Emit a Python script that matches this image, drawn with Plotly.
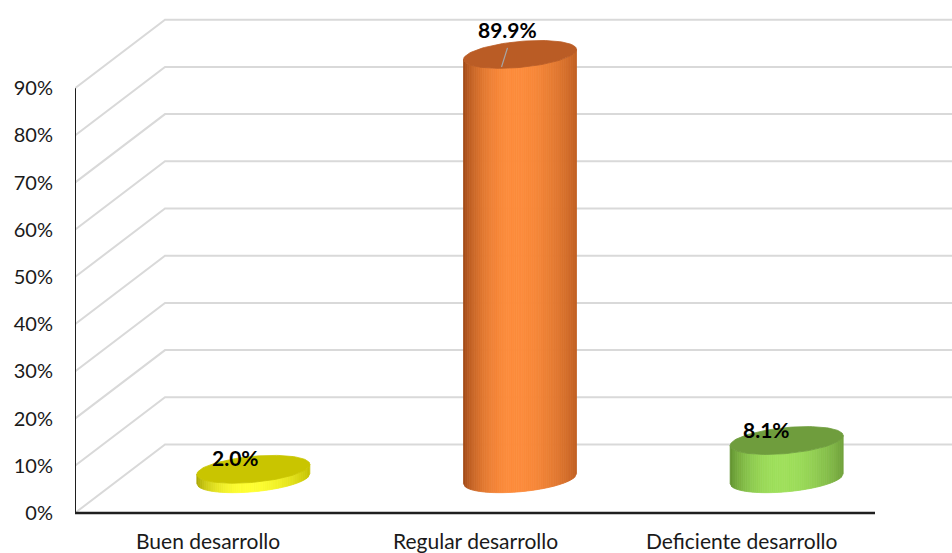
import numpy as np
import plotly.graph_objects as go

# ---- data ----
categories = ["Buen desarrollo", "Regular desarrollo", "Deficiente desarrollo"]
percentages = [2.0, 89.9, 8.1]
tick_values = [0, 10, 20, 30, 40, 50, 60, 70, 80, 90]
tick_labels = [f"{v}%" for v in tick_values]

# ---- styling ----
# (left edge, highlight, right edge, top face) per cylinder
bar_colors = [
    ("#a3a000", "#ffff33", "#c2bf00", "#c9c500"),
    ("#9a4515", "#fd8c3c", "#bf5f22", "#ba5c25"),
    ("#5b8a2c", "#9fe05c", "#6f9f3b", "#6f9d3d"),
]
label_shift = [(-18, 12), (-12.5, 25), (-20, 11.5)]   # px offsets of value labels
leader_line = [False, True, False]

FONT = "Lato"
GRID = "#d9d9d9"
AXIS = "#1f1f1f"

W, H = 952, 553
M_LEFT = 75
PX_PER_CAT = 800 / 3          # horizontal px per category on the front plane
PX_PER_PCT = 4.72             # vertical px per percentage point
FLOOR_PX = 513                # px row of the front 0% line

# oblique depth of the 3D box and cylinder geometry (in data units)
DEPTH_X = 90 / PX_PER_CAT
DEPTH_Y = 68.5 / PX_PER_PCT
R_X = 56.5 / PX_PER_CAT
R_Y = 13 / PX_PER_PCT
TILT = 5 / PX_PER_PCT

x_range = [-0.5, -0.5 + (W - M_LEFT) / PX_PER_CAT]
y_range = [-(H - FLOOR_PX) / PX_PER_PCT, FLOOR_PX / PX_PER_PCT]


def hex_rgb(h):
    h = h.lstrip("#")
    return np.array([int(h[i:i + 2], 16) for i in (0, 2, 4)], dtype=float)


def mix(a, b, w):
    c = a + (b - a) * w
    return "rgb({:.0f},{:.0f},{:.0f})".format(*np.clip(c, 0, 255))


fig = go.Figure()


def add_line(xs, ys, color, width):
    fig.add_trace(go.Scatter(x=xs, y=ys, mode="lines",
                             line=dict(color=color, width=width),
                             hoverinfo="skip", showlegend=False))


# gridlines: side wall diagonals plus back wall horizontals
x0 = x_range[0]
for v in tick_values:
    add_line([x0, x0 + DEPTH_X, x_range[1] + 0.1],
             [v, v + DEPTH_Y, v + DEPTH_Y], GRID, 2)

# cylinders
N = 60
for i, (val, cols) in enumerate(zip(percentages, bar_colors)):
    left, hi, right, top_col = [hex_rgb(c) for c in cols]
    cx = i + DEPTH_X / 2
    base = DEPTH_Y / 2
    top = base + val

    u = np.linspace(0, 1, N + 1)
    cos_t = 2 * u - 1
    sin_t = -np.sqrt(np.clip(1 - cos_t ** 2, 0, 1))
    xs = cx + R_X * cos_t
    yb = base + R_Y * sin_t + TILT * cos_t
    yt = top + R_Y * sin_t + TILT * cos_t

    for k in range(N):
        um = (u[k] + u[k + 1]) / 2
        uw = um ** 0.87
        w = np.sin(np.pi * uw) ** 0.75
        edge = left if uw < 0.5 else right
        col = mix(edge, hi, w)
        fig.add_trace(go.Scatter(
            x=[xs[k], xs[k + 1], xs[k + 1], xs[k], xs[k]],
            y=[yb[k], yb[k + 1], yt[k + 1], yt[k], yb[k]],
            mode="lines", fill="toself", fillcolor=col,
            line=dict(color=col, width=0.8),
            hoverinfo="skip", showlegend=False))

    t = np.linspace(0, 2 * np.pi, 121)
    top_rgb = mix(top_col, top_col, 0)
    fig.add_trace(go.Scatter(
        x=cx + R_X * np.cos(t),
        y=top + R_Y * np.sin(t) + TILT * np.cos(t),
        mode="lines", fill="toself", fillcolor=top_rgb,
        line=dict(color=top_rgb, width=0.8),
        hoverinfo="skip", showlegend=False))

    dx_px, dy_px = label_shift[i]
    if leader_line[i]:
        add_line([cx + dx_px / PX_PER_CAT, cx + (dx_px - 6) / PX_PER_CAT],
                 [top + (dy_px - 18.5) / PX_PER_PCT, top - 12.6 / PX_PER_PCT],
                 "#a6a6a6", 1.2)
    fig.add_annotation(x=cx, y=top, xref="x", yref="y",
                       text=f"{val:.1f}%", showarrow=False,
                       xshift=dx_px, yshift=dy_px,
                       font=dict(family=FONT, size=21, color="#000000",
                                 weight="bold"))

# front axes
add_line([x0, x0], [0, tick_values[-1]], AXIS, 2)
add_line([x0, len(categories) - 0.5], [0, 0], AXIS, 2.5)

# category labels under the floor
for i, name in enumerate(categories):
    fig.add_annotation(x=i, y=0, xref="x", yref="y", text=name,
                       showarrow=False, yshift=-27,
                       font=dict(family=FONT, size=21, color="#1a1a1a"))

fig.update_layout(
    width=W, height=H,
    margin=dict(l=M_LEFT, r=0, t=0, b=0),
    paper_bgcolor="white", plot_bgcolor="white",
    xaxis=dict(range=x_range, showgrid=False, zeroline=False,
               showticklabels=False, showline=False, fixedrange=True),
    yaxis=dict(range=y_range, showgrid=False, zeroline=False,
               showline=False, tickmode="array", tickvals=tick_values,
               ticktext=tick_labels, ticks="", ticklabelstandoff=21,
               tickfont=dict(family=FONT, size=20, color="#1a1a1a"),
               fixedrange=True),
    showlegend=False,
)

fig.write_html("out.html")
